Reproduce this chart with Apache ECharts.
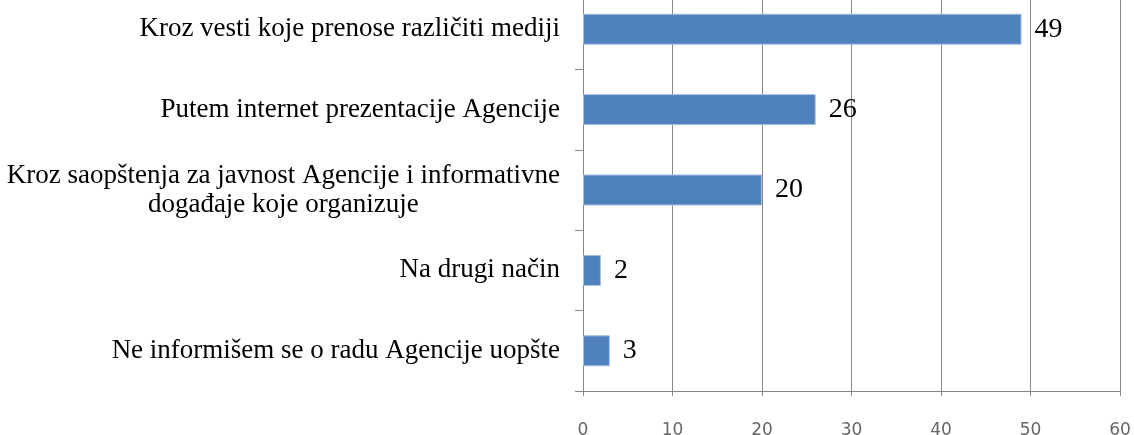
<!DOCTYPE html>
<html>
<head>
<meta charset="utf-8">
<title>Informisanje o radu Agencije</title>
<script src="https://cdn.jsdelivr.net/npm/echarts@6/dist/echarts.min.js"></script>
<style>
  html, body { margin: 0; padding: 0; background: #fff; }
  #chart { width: 1134px; height: 435px; }
</style>
</head>
<body>
<div id="chart"></div>
<script>
// kategorije odozgo nadole
const categories = [
  'Kroz vesti koje prenose različiti mediji',
  'Putem internet prezentacije Agencije',
  'Kroz saopštenja za javnost Agencije i informativne\ndogađaje koje organizuje',
  'Na drugi način',
  'Ne informišem se o radu Agencije uopšte'
];
const values = [49, 26, 20, 2, 3];
const xTicks = { min: 0, max: 60, interval: 10 };

const chart = echarts.init(document.getElementById('chart'));

// centriranje redova u labeli sa dva reda
const wrapLabel = (text) =>
  text.split('\n').map(line => '{c|' + line + '}').join('\n');

chart.setOption({
  animation: false,
  grid: {
    left: 583, right: 14, top: -11, bottom: 44,
    containLabel: false,
    outerBoundsMode: 'none'
  },
  xAxis: {
    type: 'value',
    min: xTicks.min,
    max: xTicks.max,
    interval: xTicks.interval,
    axisLine: { show: true, lineStyle: { color: '#868686', width: 1 } },
    axisTick: { show: true, length: 5, lineStyle: { color: '#868686' } },
    splitLine: { show: true, lineStyle: { color: '#868686', width: 1 } },
    axisLabel: {
      margin: 31,
      fontFamily: 'DejaVu Sans',
      fontSize: 17,
      color: '#666'
    }
  },
  yAxis: {
    type: 'category',
    data: categories,
    inverse: true,
    axisLine: { show: true, lineStyle: { color: '#868686', width: 1 } },
    axisTick: { show: true, length: 8, lineStyle: { color: '#868686' } },
    axisLabel: {
      margin: 23,
      formatter: wrapLabel,
      rich: {
        c: {
          align: 'center',
          fontFamily: 'Liberation Serif',
          fontSize: 27,
          lineHeight: 29,
          color: '#000'
        }
      }
    }
  },
  series: [{
    type: 'bar',
    data: values,
    barWidth: 31,
    itemStyle: { color: '#4F81BD', borderColor: '#A7BFDE', borderWidth: 1 },
    label: {
      show: true,
      position: 'right',
      distance: 13,
      fontFamily: 'Liberation Serif',
      fontSize: 28,
      color: '#000'
    }
  }]
});

window.addEventListener('resize', () => chart.resize());
</script>
</body>
</html>
